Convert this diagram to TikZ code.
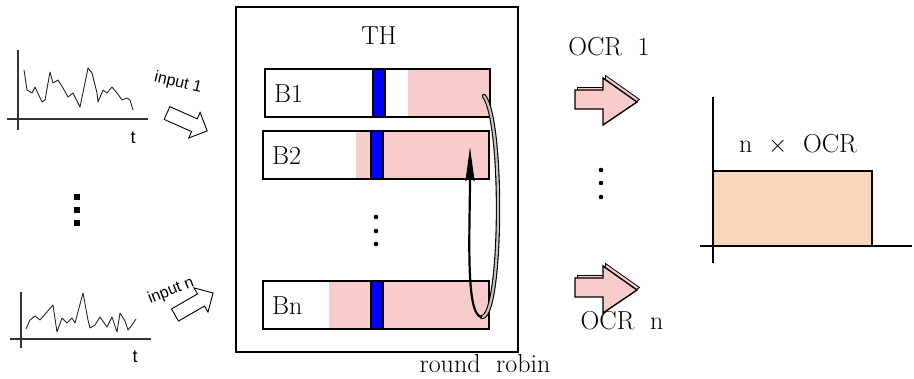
\documentclass[tikz,border=0pt]{standalone}
\usepackage{fontspec}
\newfontfamily\labelsans{Liberation Sans}
\usetikzlibrary{arrows.meta}
\definecolor{rowpink}{RGB}{247,204,203}
\definecolor{ratefill}{RGB}{247,214,187}
\definecolor{ribbon}{RGB}{196,196,196}
\newcommand\wsp{\hspace{0.6em}}
\tikzset{
  axisline/.style={line width=1.3pt, black!80},
  wave/.style={line width=0.9pt, black!85, line join=round},
  tlabel/.style={font=\labelsans\fontsize{18}{20}\selectfont, inner sep=0},
  inlabel/.style={font=\labelsans\fontsize{16}{18}\selectfont, inner sep=0},
  serif/.style={font=\fontsize{26}{30}\selectfont, inner sep=0},
  rowbox/.style={draw, line width=1.6pt, minimum height=48pt, inner sep=0},
  bluebar/.style={draw, fill=blue, line width=1.4pt},
  sqdot/.style={rectangle, fill, inner sep=0, minimum size=6pt},
  rdot/.style={circle, fill, inner sep=0, minimum size=4.6pt},
  hollowarrow/.pic={
    \draw[line width=0.9pt, fill=white, line join=miter]
      (0,-7) -- (30,-7) -- (30,-14) -- (44,0) -- (30,14) -- (30,7) -- (0,7) -- cycle;
  },
  ocrarrow/.pic={
    \draw[line width=0.8pt, fill=rowpink, line join=miter, shift={(2.5,-2.5)}]
      (0,-9.5) -- (28,-9.5) -- (28,-21.5) -- (62,2.5) -- (28,25.5) -- (28,9.5) -- (0,9.5) -- cycle;
    \draw[line width=1.4pt, fill=rowpink, line join=miter]
      (0,-9.5) -- (28,-9.5) -- (28,-21.5) -- (62,2.5) -- (28,25.5) -- (28,9.5) -- (0,9.5) -- cycle;
  },
}
\begin{document}
\begin{tikzpicture}[x=1pt, y=-1pt]
\useasboundingbox (0,0) rectangle (914,378);

% ---- input signal 1 ----
\coordinate (y1top) at (18,50);  \coordinate (y1bot) at (18,130);
\coordinate (x1l) at (7,119);    \coordinate (x1r) at (148,119);
\draw[axisline] (y1top) -- (y1bot);
\draw[axisline] (x1l) -- (x1r);
\node[tlabel] (t1) at (133,138) {t};
\draw[wave] plot coordinates {(24,70) (27,90) (32,93) (35,87) (42,102) (45,100) (50,72) (53,83)
  (58,80) (63,88) (68,97) (73,93) (80,107) (85,83) (88,68) (92,73) (97,93) (98,102) (103,90)
  (107,93) (112,87) (117,93) (122,100) (127,98) (130,100) (133,110)};
\node[inlabel, rotate=-13] (in1) at (178,83) {input 1};
\pic[rotate=-24] at (167,113) {hollowarrow};

% ---- vertical ellipsis between inputs ----
\node[sqdot] (ld1) at (77,197) {};
\node[sqdot] (ld2) at (77,210) {};
\node[sqdot] (ld3) at (77,223) {};

% ---- input signal n ----
\coordinate (y2top) at (21,292); \coordinate (y2bot) at (21,348);
\coordinate (x2l) at (10,339);   \coordinate (x2r) at (151,339);
\draw[axisline] (y2top) -- (y2bot);
\draw[axisline] (x2l) -- (x2r);
\node[tlabel] (t2) at (135,357) {t};
\draw[wave] plot coordinates {(26,329) (30,320) (35,316) (40,320) (53,305) (57,332) (62,318)
  (67,323) (72,318) (75,323) (83,293) (88,320) (90,328) (95,325) (100,317) (107,327) (112,317)
  (117,332) (120,313) (125,321) (128,330) (132,325) (136,319)};
\pic[rotate=30] at (175,315) {hollowarrow};
\node[inlabel, rotate=22] (inn) at (171,291) {input n};

% ---- TH block with buffers ----
\node[draw, line width=1.8pt, minimum width=282pt, minimum height=345pt, inner sep=0]
  (th) at (377,179.5) {};
\node[serif] (thl) at (379,36) {TH};

% buffer B1
\fill[rowpink] (408,69) rectangle (490,117);
\draw[bluebar] (373,69) rectangle (385,117);
\node[rowbox, minimum width=225pt] (b1) at (377.5,93) {};
\node[serif, anchor=west] (b1l) at (274,94) {B1};

% buffer B2
\fill[rowpink] (356,131) rectangle (489,179);
\draw[bluebar] (371,131) rectangle (383,179);
\node[rowbox, minimum width=226pt] (b2) at (376,155) {};
\node[serif, anchor=west] (b2l) at (272,156) {B2};

% buffer Bn
\fill[rowpink] (329,281) rectangle (489,329);
\draw[bluebar] (371,281) rectangle (383,329);
\node[rowbox, minimum width=226pt] (bn) at (376,305) {};
\node[serif, anchor=west] (bnl) at (272,306) {Bn};

% dots between buffers
\node[rdot] (td1) at (376,217) {};
\node[rdot] (td2) at (376,231) {};
\node[rdot] (td3) at (376,244) {};

% round robin loop: ribbon on the way down, plain stroke back up
\coordinate (rrs) at (484,96);
\coordinate (rrb) at (482,317);
\coordinate (rre) at (470,147);
\draw[line width=4.4pt, black, line cap=round] (rrs) .. controls (504,122) and (502,317) .. (rrb);
\draw[line width=2.2pt, ribbon, line cap=round] (rrs) .. controls (504,122) and (502,317) .. (rrb);
\draw[line width=2.2pt, -{Stealth[length=34pt, width=9pt, inset=3pt]}]
  (rrb) .. controls (465,317) and (470,230) .. (rre);
\node[serif] (rr) at (485,364) {round\wsp robin};

% ---- output rate arrows ----
\node[serif] (ocr1) at (609,47) {OCR\wsp 1};
\pic at (575,99.5) {ocrarrow};
\node[rdot] (od1) at (601,170) {};
\node[rdot] (od2) at (601,183) {};
\node[rdot] (od3) at (601,197) {};
\pic at (575,287.5) {ocrarrow};
\node[serif] (ocrn) at (622,321) {OCR\wsp n};

% ---- combined rate chart ----
\coordinate (ytop) at (713,97);  \coordinate (ybot) at (713,263);
\coordinate (xl) at (700,246);   \coordinate (xr) at (912,246);
\node[draw, fill=ratefill, line width=1.6pt, minimum width=159pt, minimum height=75pt, inner sep=0]
  (rate) at (792.5,208.5) {};
\draw[line width=1.3pt] (ytop) -- (ybot);
\draw[line width=1.3pt] (xl) -- (xr);
\node[serif] (ratel) at (798,144) {n\wsp$\times$\wsp OCR};
\end{tikzpicture}
\end{document}
